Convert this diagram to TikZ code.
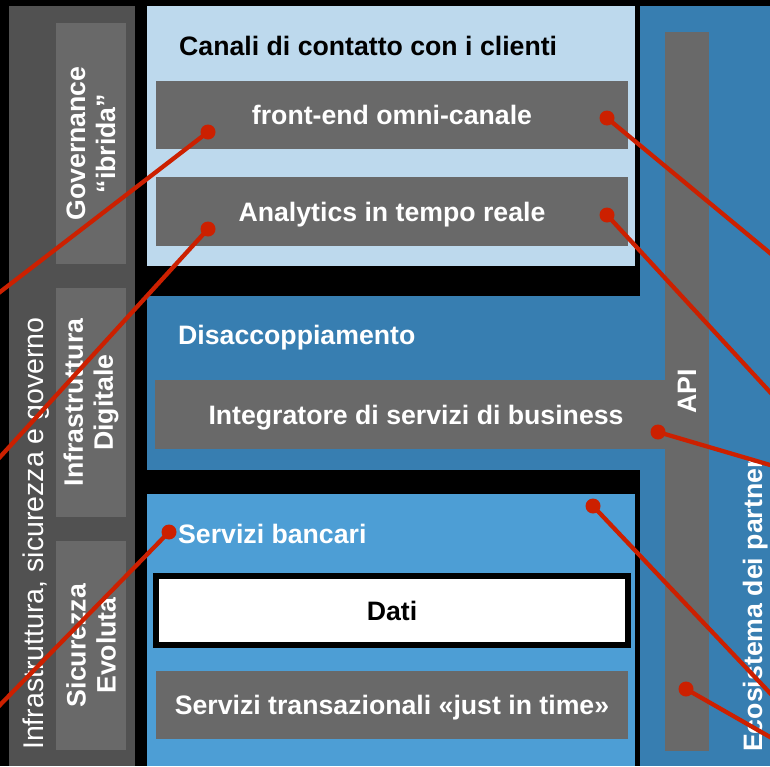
\documentclass[tikz,border=0pt]{standalone}
\usepackage{fontspec}
\setmainfont{Liberation Sans}
\usetikzlibrary{positioning}
\definecolor{colgray}{HTML}{515151}
\definecolor{boxgray}{HTML}{696969}
\definecolor{paleblue}{HTML}{BDD9ED}
\definecolor{midblue}{HTML}{377EB1}
\definecolor{skyblue}{HTML}{4D9ED5}
\definecolor{wirered}{HTML}{CC2000}
\newcommand{\hdfont}{\fontsize{26.67}{30}\selectfont\bfseries}

\begin{document}
\begin{tikzpicture}[
  x=1pt,y=-1pt,
  gbox/.style={fill=boxgray,text=white,font=\hdfont,inner sep=0pt,outer sep=0pt,anchor=north west,text height=19.5pt,text depth=0pt},
  sidebox/.style={fill=boxgray,text=white,font=\hdfont,align=center,rotate=90,inner sep=0pt,minimum height=70pt},
  title/.style={anchor=base west,inner sep=0pt,font=\hdfont},
  dot/.style={circle,fill=wirered,inner sep=0pt,minimum size=15pt},
  wire/.style={draw=wirered,line width=4.3pt}
]
  \useasboundingbox (0,0) rectangle (770,766);
  \fill[black] (0,0) rectangle (770,766);
  \fill[colgray] (9,6) rectangle (135,766);
  \fill[paleblue] (147,6) rectangle (635,266);
  \fill[midblue] (640,6) rectangle (770,766);
  \fill[midblue] (147,296) rectangle (645,470);
  \fill[skyblue] (147,494) rectangle (635,766);

  \node[rotate=90,anchor=base west,inner sep=0pt,text=white,font=\fontsize{28.5}{30}\selectfont] (infra) at (43,750) {Infrastruttura, sicurezza e governo};
  \node[sidebox,minimum width=241pt] (gov) at (91,143.5) {Governance\\“ibrida”};
  \node[sidebox,minimum width=229pt] (dig) at (91,402.5) {Infrastruttura\\Digitale};
  \node[sidebox,minimum width=209pt] (sic) at (91,645.5) {Sicurezza\\Evoluta};

  \node[title] (canali) at (179,55) {Canali di contatto con i clienti};
  \node[gbox,minimum width=472pt,minimum height=68pt] (fe) at (156,81) {front-end omni-canale};
  \node[gbox,minimum width=472pt,minimum height=69pt] (an) at (156,177) {Analytics in tempo reale};

  \node[title,text=white] (disacc) at (178,344) {Disaccoppiamento};
  \node[gbox,minimum width=522pt,minimum height=69pt] (integr) at (155,380) {Integratore di servizi di business};
  \node[fill=boxgray,text=white,font=\hdfont,rotate=90,inner sep=0pt,minimum width=719pt,minimum height=44pt] (api) at (687,391.5) {API};

  \node[title,text=white] (bancari) at (178,543) {Servizi bancari};
  \node[gbox,fill=white,draw=black,line width=6pt,text=black,minimum width=472pt,minimum height=68.5pt] (dati) at (156,576) {Dati};
  \node[gbox,minimum width=472pt,minimum height=68pt] (trans) at (156,671) {Servizi transazionali «just in time»};

  \node[rotate=90,anchor=base west,inner sep=0pt,text=white,font=\hdfont] (eco) at (762,752) {Ecosistema dei partner};

  \node[dot] (p1) at (208,132) {};
  \node[dot] (p2) at (208,229) {};
  \node[dot] (p3) at (169,532) {};
  \node[dot] (p4) at (607,118) {};
  \node[dot] (p5) at (607,215) {};
  \node[dot] (p6) at (658,432) {};
  \node[dot] (p7) at (593,506) {};
  \node[dot] (p8) at (686,689) {};
  \coordinate (e1) at (-10,299.7);
  \coordinate (e2) at (-10,468);
  \coordinate (e3) at (-10,715.2);
  \coordinate (e4) at (780,261.3);
  \coordinate (e5) at (780,402.9);
  \coordinate (e6) at (780,467.9);
  \coordinate (e7) at (780,703.6);
  \coordinate (e8) at (780,742.7);
  \foreach \i in {1,...,8}
    \draw[wire] (p\i.center) -- (e\i);
\end{tikzpicture}
\end{document}
